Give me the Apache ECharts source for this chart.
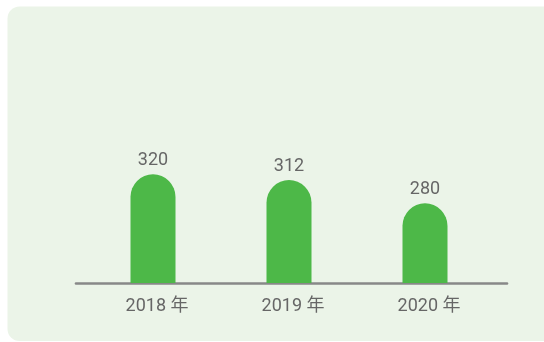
<!DOCTYPE html>
<html>
<head>
<meta charset="utf-8">
<style>
  html, body { margin: 0; padding: 0; background: #ffffff; }
  #chart { width: 544px; height: 342px; }
</style>
<script src="https://cdn.jsdelivr.net/npm/echarts@6/dist/echarts.min.js"></script>
</head>
<body>
<div id="chart"></div>
<script>
// Annual totals by year
const years = ['2018 年', '2019 年', '2020 年'];
const totals = [320, 312, 280];

const green = '#4db848';
const textGray = '#666666';

const chart = echarts.init(document.getElementById('chart'), null, { renderer: 'canvas' });

chart.setOption({
  animation: false,
  backgroundColor: 'transparent',
  graphic: [{
    type: 'rect',
    z: -10,
    silent: true,
    shape: { x: 7.5, y: 6.5, width: 560, height: 334.5, r: 12 },
    style: { fill: '#ebf4e8' }
  }],
  grid: [
    { left: 85, right: 51, top: 20, bottom: 59 },
    { left: 76, right: 37, top: 20, bottom: 59 }
  ],
  xAxis: [
    {
      type: 'category',
      gridIndex: 0,
      data: years,
      axisLine: { show: false },
      axisTick: { show: false },
      axisLabel: {
        color: textGray,
        fontSize: 18,
        fontFamily: 'Roboto, "Noto Sans CJK SC", sans-serif',
        margin: 15,
        padding: [0, 0, 0, 8]
      }
    },
    {
      // baseline rule across the plot
      type: 'value',
      gridIndex: 1,
      min: 0,
      max: 1,
      axisLine: { show: true, lineStyle: { color: '#888888', width: 2.6 } },
      axisTick: { show: false },
      axisLabel: { show: false },
      splitLine: { show: false }
    }
  ],
  yAxis: [
    { type: 'value', gridIndex: 0, min: 170, max: 533, show: false, splitLine: { show: false } },
    { type: 'value', gridIndex: 1, min: 0, max: 1, show: false, splitLine: { show: false } }
  ],
  series: [{
    type: 'bar',
    xAxisIndex: 0,
    yAxisIndex: 0,
    data: totals,
    barWidth: 45,
    itemStyle: { color: green, borderRadius: [22.5, 22.5, 0, 0] },
    label: {
      show: true,
      position: 'top',
      distance: 5,
      color: textGray,
      fontSize: 18,
      fontFamily: 'Roboto, sans-serif'
    }
  }]
});
</script>
</body>
</html>
